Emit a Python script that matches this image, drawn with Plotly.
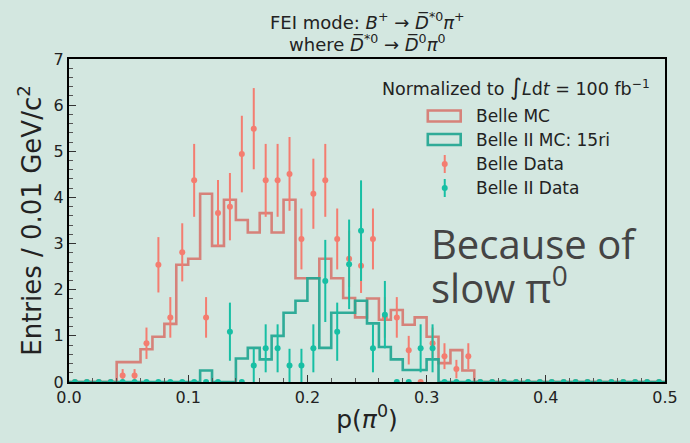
import numpy as np
import plotly.graph_objects as go

# ---------------- data ----------------
bin_edges = np.round(np.arange(51) * 0.01, 2)          # 0.00 ... 0.50
bin_centers = np.round(bin_edges[:-1] + 0.005, 3)

belle_mc = [0, 0, 0, 0, 0.43, 0.43, 0.71, 0.98, 1.26, 2.54,
            2.67, 4.08, 2.95, 3.95, 3.51, 3.24, 3.66, 3.24, 3.95, 2.25,
            2.25, 2.67, 2.25, 1.82, 1.40, 1.81, 1.35, 1.56, 1.24, 1.40,
            0.98, 0.41, 0.69, 0.25, 0, 0, 0, 0, 0, 0,
            0, 0, 0, 0, 0, 0, 0, 0, 0, 0]

belle2_mc = [0, 0, 0, 0, 0, 0, 0, 0, 0, 0,
             0, 0.25, 0, 0, 0.51, 0.74, 0.49, 1.00, 1.50, 1.76,
             2.25, 0.74, 1.50, 1.50, 1.76, 1.27, 0.76, 0.49, 0.26, 0.26,
             0.49, 0, 0, 0, 0, 0, 0, 0, 0, 0,
             0, 0, 0, 0, 0, 0, 0, 0, 0, 0]

belle_data = [0, 0, 0, 0, 0.14, 0.14, 0.84, 2.54, 1.40, 2.81,
              4.37, 1.40, 3.66, 3.80, 4.94, 5.49, 4.37, 4.37, 4.51, 3.10,
              4.08, 4.37, 3.10, 2.67, 2.52, 3.10, 1.40, 1.40, 0.69, 0,
              0.84, 0.56, 0.28, 0.56, 0, 0, 0, 0, 0, 0,
              0, 0, 0, 0, 0, 0, 0, 0, 0, 0]
belle_err = [0, 0, 0, 0, 0.14, 0.14, 0.34, 0.60, 0.44, 0.63,
             0.79, 0.44, 0.72, 0.73, 0.83, 0.88, 0.79, 0.79, 0.80, 0.66,
             0.76, 0.79, 0.66, 0.61, 0.59, 0.66, 0.44, 0.44, 0.31, 0,
             0.34, 0.28, 0.20, 0.28, 0, 0, 0, 0, 0, 0,
             0, 0, 0, 0, 0, 0, 0, 0, 0, 0]

belle2_data = [0, 0, 0, 0, 0, 0, 0, 0, 0, 0,
               0, 0, 0, 1.09, 0, 0.36, 0.73, 0.73, 0.36, 0.36,
               0.73, 2.19, 1.09, 2.55, 3.28, 0.73, 1.46, 0, 0, 0.73,
               0.73, 0, 0, 0, 0, 0, 0, 0, 0, 0,
               0, 0, 0, 0, 0, 0, 0, 0, 0, 0]
belle2_err = [0, 0, 0, 0, 0, 0, 0, 0, 0, 0,
              0, 0, 0, 0.63, 0, 0.36, 0.52, 0.52, 0.36, 0.36,
              0.52, 0.89, 0.63, 0.97, 1.09, 0.52, 0.73, 0, 0, 0.52,
              0.52, 0, 0, 0, 0, 0, 0, 0, 0, 0,
              0, 0, 0, 0, 0, 0, 0, 0, 0, 0]

x_ticks = [0.0, 0.1, 0.2, 0.3, 0.4, 0.5]
y_ticks = [0, 1, 2, 3, 4, 5, 6, 7]

title_lines = [
    "FEI mode: <i>B</i><sup>+</sup> → <i>D\u0305</i><sup>*0</sup><i>π</i><sup>+</sup>",
    "where <i>D\u0305</i><sup>*0</sup> → <i>D\u0305</i><sup>0</sup><i>π</i><sup>0</sup>",
]
legend_title = "Normalized to <span style='font-size:23px'>∫</span><i>L</i>d<i>t</i> = 100 fb<sup>−1</sup>"
legend_labels = ["Belle MC", "Belle II MC: 15ri", "Belle Data", "Belle II Data"]
note_lines = ["Because of", "slow π<sup>0</sup>"]

# ---------------- styles ----------------
BG = "#d3e7e0"
RED_MC = "rgba(214,124,116,0.95)"
TEAL_MC = "rgba(38,168,148,0.95)"
RED_DATA = "#f47d70"
TEAL_DATA = "#17bfa4"
FONT = "DejaVu Sans"
TXT = "#222"

fig = go.Figure()

def step(values):
    return list(values) + [values[-1]]

fig.add_trace(go.Scatter(x=bin_edges, y=step(belle_mc), mode="lines",
                         line=dict(shape="hv", color=RED_MC, width=2.6),
                         name=legend_labels[0], showlegend=False, hoverinfo="skip"))
fig.add_trace(go.Scatter(x=bin_edges, y=step(belle2_mc), mode="lines",
                         line=dict(shape="hv", color=TEAL_MC, width=2.6),
                         name=legend_labels[1], showlegend=False, hoverinfo="skip"))
fig.add_trace(go.Scatter(x=bin_centers, y=belle_data, mode="markers",
                         marker=dict(color=RED_DATA, size=6),
                         error_y=dict(type="data", array=belle_err, visible=True,
                                      color=RED_DATA, thickness=2, width=0),
                         name=legend_labels[2], showlegend=False))
fig.add_trace(go.Scatter(x=bin_centers, y=belle2_data, mode="markers",
                         marker=dict(color=TEAL_DATA, size=6),
                         error_y=dict(type="data", array=belle2_err, visible=True,
                                      color=TEAL_DATA, thickness=2, width=0),
                         name=legend_labels[3], showlegend=False))

# ---------------- manual legend (paper coords of the plot area) ----------------
L, R, T, B = 69, 667, 59, 382
def px(x):
    return (x - L) / (R - L)
def py(y):
    return (B - y) / (B - T)

shapes = []
annotations = []
for txt, yy in zip(title_lines, [21, 43]):
    annotations.append(dict(x=0.5, y=py(yy), xref="paper", yref="paper",
                            text=txt, showarrow=False, xanchor="center", yanchor="middle",
                            font=dict(family=FONT, size=18, color=TXT)))
annotations.append(dict(x=px(518), y=py(87), xref="paper", yref="paper",
                        text=legend_title, showarrow=False, xanchor="center",
                        yanchor="middle", font=dict(family=FONT, size=17.5, color=TXT)))
rows_y = [116, 139.5, 164, 188]
for lab, yy in zip(legend_labels, rows_y):
    annotations.append(dict(x=px(475), y=py(yy), xref="paper", yref="paper",
                            text=lab, showarrow=False, xanchor="left", yanchor="middle",
                            font=dict(family=FONT, size=17, color=TXT)))
for col, yy in [(RED_MC, rows_y[0]), (TEAL_MC, rows_y[1])]:
    shapes.append(dict(type="rect", xref="paper", yref="paper",
                       x0=px(429), x1=px(462), y0=py(yy + 5.5), y1=py(yy - 5.5),
                       line=dict(color=col, width=2.6), fillcolor=BG))
for col, yy in [(RED_DATA, rows_y[2]), (TEAL_DATA, rows_y[3])]:
    shapes.append(dict(type="line", xref="paper", yref="paper",
                       x0=px(446), x1=px(446), y0=py(yy + 9), y1=py(yy - 9),
                       line=dict(color=col, width=2)))
    shapes.append(dict(type="circle", xref="paper", yref="paper",
                       x0=px(443), x1=px(449), y0=py(yy + 3), y1=py(yy - 3),
                       line=dict(color=col, width=0), fillcolor=col))

for txt, yy in zip(note_lines, [244, 285]):
    annotations.append(dict(x=px(430), y=py(yy), xref="paper", yref="paper",
                            text=txt, showarrow=False, xanchor="left", yanchor="middle",
                            font=dict(family="Open Sans", size=40, color="#444")))

fig.update_layout(
    width=690, height=443,
    margin=dict(l=L, r=690 - R, t=T, b=443 - B),
    paper_bgcolor=BG, plot_bgcolor=BG,
    font=dict(family=FONT, color=TXT),
    showlegend=False,
    shapes=shapes, annotations=annotations,
)
fig.update_xaxes(range=[0, 0.5], tickvals=x_ticks, ticktext=[f"{v:.1f}" for v in x_ticks],
                 ticks="inside", ticklen=7, tickwidth=1.2, tickcolor="#333",
                 minor=dict(dtick=0.02, ticks="inside", ticklen=4, tickcolor="#555", tickwidth=1),
                 showline=True, linewidth=2, linecolor="black", mirror=True,
                 showgrid=False, zeroline=False,
                 tickfont=dict(size=16, color=TXT),
                 title=dict(text="p(<i>π</i><sup>0</sup>)", font=dict(size=25, color=TXT), standoff=4))
fig.update_yaxes(range=[0, 7], tickvals=y_ticks,
                 ticks="inside", ticklen=7, tickwidth=1.2, tickcolor="#333",
                 minor=dict(dtick=0.2, ticks="inside", ticklen=4, tickcolor="#555", tickwidth=1),
                 showline=True, linewidth=2, linecolor="black", mirror=True,
                 showgrid=False, zeroline=False,
                 tickfont=dict(size=16, color=TXT),
                 title=dict(text="Entries / 0.01 GeV/c<sup>2</sup>", font=dict(size=26, color=TXT), standoff=5))

fig.write_html("out.html")
